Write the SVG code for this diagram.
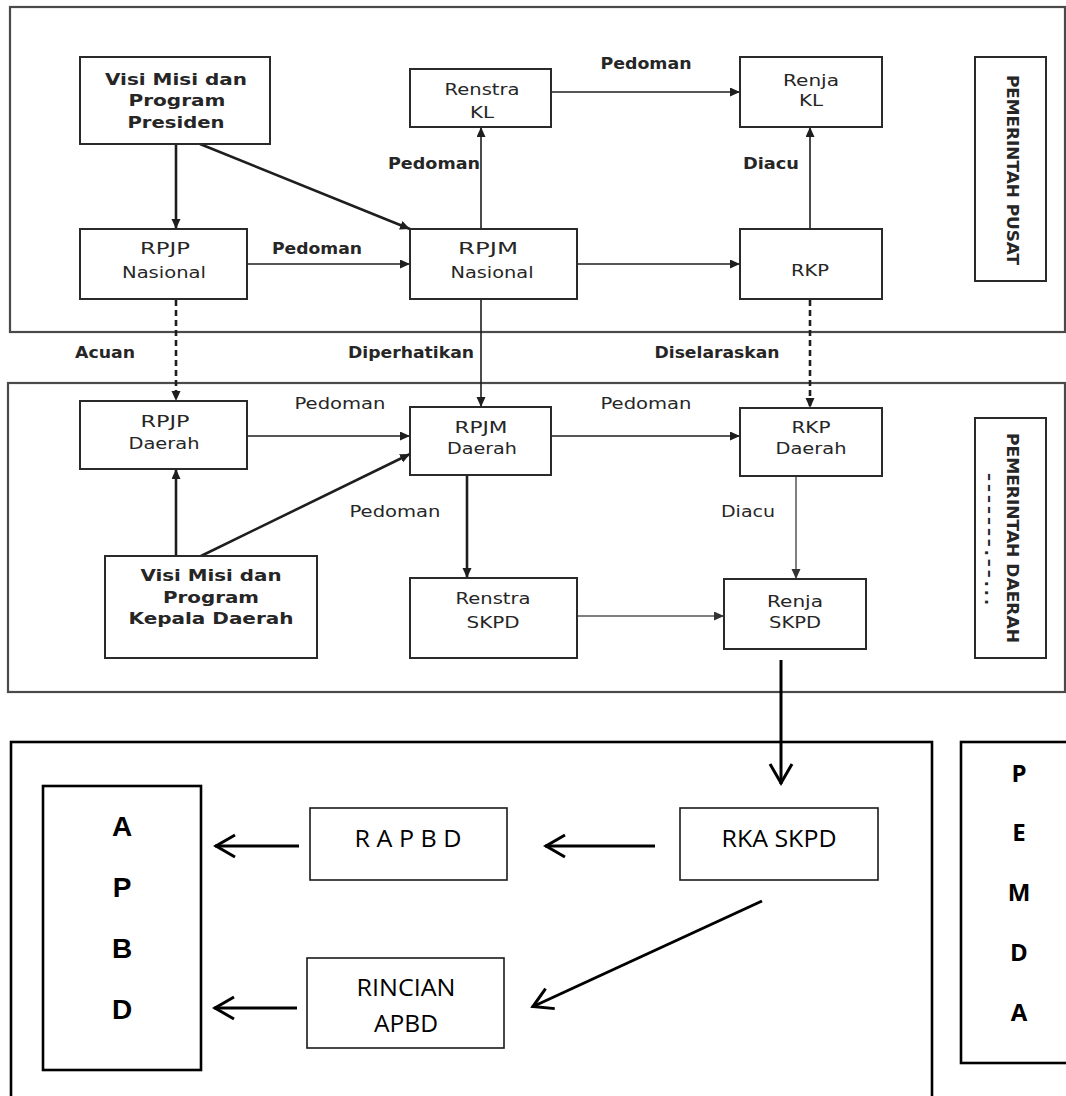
<svg xmlns="http://www.w3.org/2000/svg" width="1066" height="1096" viewBox="0 0 1066 1096">
<style>
.frame{fill:none;stroke:#4a4a4a;stroke-width:2.2}
.box{fill:#fff;stroke:#2a2a2a;stroke-width:2}
.t{font-family:"DejaVu Sans",Verdana,sans-serif;font-size:16px;fill:#262626;text-anchor:middle}
.b{font-weight:bold}
.lbl{font-family:"DejaVu Sans",Verdana,sans-serif;font-size:16px;fill:#262626;text-anchor:middle}
.ln{fill:none;stroke:#1e1e1e;stroke-width:1.6}
.thick{stroke-width:2.6}
.gray{stroke:#555;stroke-width:1.5}
.dash{stroke-dasharray:6 4;stroke-width:2.6}
.bframe{fill:none;stroke:#000;stroke-width:2.6}
.bbox{fill:#fff;stroke:#1a1a1a;stroke-width:1.6}
.bt{font-family:"Open Sans","Liberation Sans",sans-serif;font-size:24px;fill:#000;text-anchor:middle}
.big{font-family:"Liberation Sans",Arial,sans-serif;font-size:28px;font-weight:bold;fill:#000;text-anchor:middle}
.pem{font-family:"Open Sans","Liberation Sans",sans-serif;font-size:24px;font-weight:bold;fill:#000;text-anchor:middle}
.arr{fill:none;stroke:#000;stroke-width:3}
</style>
<defs>
<marker id="tri" markerUnits="userSpaceOnUse" markerWidth="12" markerHeight="10" refX="10" refY="4.5" orient="auto">
<path d="M0,0 L10,4.5 L0,9 z" fill="#1e1e1e"/>
</marker>
<marker id="trig" markerUnits="userSpaceOnUse" markerWidth="12" markerHeight="10" refX="10" refY="4.5" orient="auto">
<path d="M0,0 L10,4.5 L0,9 z" fill="#333"/>
</marker>
<marker id="open" markerUnits="userSpaceOnUse" markerWidth="30" markerHeight="30" refX="23" refY="13" orient="auto">
<path d="M3,2 L22,13 L3,24" fill="none" stroke="#000" stroke-width="3"/>
</marker>
</defs>
<rect width="1066" height="1096" fill="#fff"/>

<g id="frames">
<rect class="frame" x="10" y="7" width="1055" height="325"/>
<rect class="frame" x="8" y="383" width="1057" height="309"/>
<rect class="bframe" x="11" y="742" width="921" height="370"/>
</g>

<g id="connectors">
<line class="ln thick" x1="176" y1="144" x2="176" y2="229" marker-end="url(#tri)"/>
<line class="ln thick" x1="200" y1="144" x2="410" y2="229" marker-end="url(#tri)"/>
<line class="ln" x1="247" y1="264" x2="410" y2="264" marker-end="url(#tri)"/>
<line class="ln" x1="481" y1="229" x2="481" y2="127" marker-end="url(#tri)"/>
<line class="ln" x1="551" y1="92" x2="740" y2="92" marker-end="url(#tri)"/>
<line class="ln" x1="810" y1="229" x2="810" y2="127" marker-end="url(#tri)"/>
<line class="ln" x1="577" y1="264" x2="740" y2="264" marker-end="url(#tri)"/>
<line class="ln dash" x1="176" y1="300" x2="176" y2="401" marker-end="url(#tri)"/>
<line class="ln" x1="481" y1="299" x2="481" y2="407" marker-end="url(#tri)"/>
<line class="ln dash" x1="810" y1="300" x2="810" y2="408" marker-end="url(#tri)"/>
<line class="ln" x1="247" y1="436" x2="410" y2="436" marker-end="url(#tri)"/>
<line class="ln thick" x1="176" y1="556" x2="176" y2="469" marker-end="url(#tri)"/>
<line class="ln thick" x1="201" y1="556" x2="410" y2="454" marker-end="url(#tri)"/>
<line class="ln" x1="551" y1="436" x2="740" y2="436" marker-end="url(#tri)"/>
<line class="ln thick" x1="467" y1="475" x2="467" y2="578" marker-end="url(#tri)"/>
<line class="ln gray" x1="577" y1="616" x2="724" y2="616" marker-end="url(#trig)"/>
<line class="ln gray" x1="796" y1="476" x2="796" y2="579" marker-end="url(#trig)"/>
<line class="arr" x1="781" y1="660" x2="781" y2="784" marker-end="url(#open)"/>
<line class="arr" x1="299" y1="846" x2="215" y2="846" marker-end="url(#open)"/>
<line class="arr" x1="297" y1="1008" x2="214" y2="1008" marker-end="url(#open)"/>
<line class="arr" x1="655" y1="846" x2="545" y2="846" marker-end="url(#open)"/>
<line class="arr" x1="762" y1="901" x2="532" y2="1007" marker-end="url(#open)"/>
</g>

<g id="labels">
<text class="lbl b" x="317" y="254" textLength="90" lengthAdjust="spacingAndGlyphs">Pedoman</text>
<text class="lbl b" x="434" y="169" textLength="92" lengthAdjust="spacingAndGlyphs">Pedoman</text>
<text class="lbl b" x="646" y="69" textLength="91" lengthAdjust="spacingAndGlyphs">Pedoman</text>
<text class="lbl b" x="771" y="169" textLength="56" lengthAdjust="spacingAndGlyphs">Diacu</text>
<text class="lbl b" x="105" y="358" textLength="60" lengthAdjust="spacingAndGlyphs">Acuan</text>
<text class="lbl b" x="411" y="358" textLength="126" lengthAdjust="spacingAndGlyphs">Diperhatikan</text>
<text class="lbl b" x="717" y="358" textLength="125" lengthAdjust="spacingAndGlyphs">Diselaraskan</text>
<text class="lbl" x="340" y="409" textLength="91" lengthAdjust="spacingAndGlyphs">Pedoman</text>
<text class="lbl" x="646" y="409" textLength="91" lengthAdjust="spacingAndGlyphs">Pedoman</text>
<text class="lbl" x="395" y="517" textLength="91" lengthAdjust="spacingAndGlyphs">Pedoman</text>
<text class="lbl" x="748" y="517" textLength="54" lengthAdjust="spacingAndGlyphs">Diacu</text>
</g>

<g id="visi-presiden">
<rect class="box" x="80" y="57" width="190" height="87"/>
<text class="t b" x="176" y="85" textLength="142" lengthAdjust="spacingAndGlyphs">Visi Misi dan</text>
<text class="t b" x="177" y="106" textLength="97" lengthAdjust="spacingAndGlyphs">Program</text>
<text class="t b" x="176" y="128" textLength="97" lengthAdjust="spacingAndGlyphs">Presiden</text>
</g>
<g id="rpjp-nasional">
<rect class="box" x="80" y="229" width="167" height="70"/>
<text class="t" x="165" y="254" textLength="50" lengthAdjust="spacingAndGlyphs">RPJP</text>
<text class="t" x="164" y="278" textLength="84" lengthAdjust="spacingAndGlyphs">Nasional</text>
</g>
<g id="rpjm-nasional">
<rect class="box" x="410" y="229" width="167" height="70"/>
<text class="t" x="488" y="254" textLength="60" lengthAdjust="spacingAndGlyphs">RPJM</text>
<text class="t" x="492" y="278" textLength="83" lengthAdjust="spacingAndGlyphs">Nasional</text>
</g>
<g id="renstra-kl">
<rect class="box" x="410" y="69" width="141" height="58"/>
<text class="t" x="482" y="95" textLength="75" lengthAdjust="spacingAndGlyphs">Renstra</text>
<text class="t" x="482" y="118" textLength="24" lengthAdjust="spacingAndGlyphs">KL</text>
</g>
<g id="renja-kl">
<rect class="box" x="740" y="57" width="142" height="70"/>
<text class="t" x="811" y="86" textLength="56" lengthAdjust="spacingAndGlyphs">Renja</text>
<text class="t" x="811" y="106" textLength="24" lengthAdjust="spacingAndGlyphs">KL</text>
</g>
<g id="rkp">
<rect class="box" x="740" y="229" width="142" height="70"/>
<text class="t" x="810" y="276" textLength="38" lengthAdjust="spacingAndGlyphs">RKP</text>
</g>
<g id="pemerintah-pusat">
<rect class="box" x="975" y="57" width="71" height="224"/>
<text class="t b" transform="translate(1014,170) rotate(90)" x="0" y="7" font-size="19" textLength="190" lengthAdjust="spacingAndGlyphs">PEMERINTAH PUSAT</text>
</g>

<g id="rpjp-daerah">
<rect class="box" x="80" y="401" width="167" height="68"/>
<text class="t" x="165" y="427" textLength="49" lengthAdjust="spacingAndGlyphs">RPJP</text>
<text class="t" x="164" y="449" textLength="71" lengthAdjust="spacingAndGlyphs">Daerah</text>
</g>
<g id="rpjm-daerah">
<rect class="box" x="410" y="407" width="141" height="68"/>
<text class="t" x="481" y="433" textLength="53" lengthAdjust="spacingAndGlyphs">RPJM</text>
<text class="t" x="482" y="454" textLength="70" lengthAdjust="spacingAndGlyphs">Daerah</text>
</g>
<g id="rkp-daerah">
<rect class="box" x="740" y="408" width="142" height="68"/>
<text class="t" x="811" y="433" textLength="39" lengthAdjust="spacingAndGlyphs">RKP</text>
<text class="t" x="811" y="454" textLength="71" lengthAdjust="spacingAndGlyphs">Daerah</text>
</g>
<g id="visi-kepala-daerah">
<rect class="box" x="105" y="556" width="212" height="102"/>
<text class="t b" x="211" y="581" textLength="141" lengthAdjust="spacingAndGlyphs">Visi Misi dan</text>
<text class="t b" x="211" y="603" textLength="96" lengthAdjust="spacingAndGlyphs">Program</text>
<text class="t b" x="211" y="624" textLength="165" lengthAdjust="spacingAndGlyphs">Kepala Daerah</text>
</g>
<g id="renstra-skpd">
<rect class="box" x="410" y="578" width="167" height="80"/>
<text class="t" x="493" y="604" textLength="75" lengthAdjust="spacingAndGlyphs">Renstra</text>
<text class="t" x="493" y="628" textLength="53" lengthAdjust="spacingAndGlyphs">SKPD</text>
</g>
<g id="renja-skpd">
<rect class="box" x="724" y="579" width="142" height="70"/>
<text class="t" x="795" y="607" textLength="56" lengthAdjust="spacingAndGlyphs">Renja</text>
<text class="t" x="795" y="628" textLength="52" lengthAdjust="spacingAndGlyphs">SKPD</text>
</g>
<g id="pemerintah-daerah">
<rect class="box" x="975" y="418" width="71" height="240"/>
<text class="t b" transform="translate(1014,538) rotate(90)" x="0" y="7" font-size="19" textLength="210" lengthAdjust="spacingAndGlyphs">PEMERINTAH DAERAH</text>
<text class="t b" transform="translate(991,539) rotate(90)" x="0" y="6" font-size="16" textLength="132" lengthAdjust="spacing">–––––––.––...</text>
</g>

<g id="apbd">
<rect class="bframe" x="43" y="786" width="158" height="284"/>
<text class="big" x="122" y="836">A</text>
<text class="big" x="122" y="897">P</text>
<text class="big" x="122" y="958">B</text>
<text class="big" x="122" y="1019">D</text>
</g>
<g id="rapbd">
<rect class="bbox" x="310" y="808" width="197" height="72"/>
<text class="bt" x="408" y="847" textLength="107" lengthAdjust="spacingAndGlyphs">R A P B D</text>
</g>
<g id="rincian-apbd">
<rect class="bbox" x="307" y="958" width="197" height="90"/>
<text class="bt" x="406" y="996" textLength="99" lengthAdjust="spacingAndGlyphs">RINCIAN</text>
<text class="bt" x="406" y="1032" textLength="64" lengthAdjust="spacingAndGlyphs">APBD</text>
</g>
<g id="rka-skpd">
<rect class="bbox" x="680" y="808" width="198" height="72"/>
<text class="bt" x="779" y="847" textLength="115" lengthAdjust="spacingAndGlyphs">RKA SKPD</text>
</g>
<g id="pemda">
<rect class="bframe" x="961" y="742" width="110" height="321"/>
<text class="pem" x="1019" y="782">P</text>
<text class="pem" x="1019" y="841">E</text>
<text class="pem" x="1019" y="901">M</text>
<text class="pem" x="1019" y="961">D</text>
<text class="pem" x="1019" y="1021">A</text>
</g>
</svg>
